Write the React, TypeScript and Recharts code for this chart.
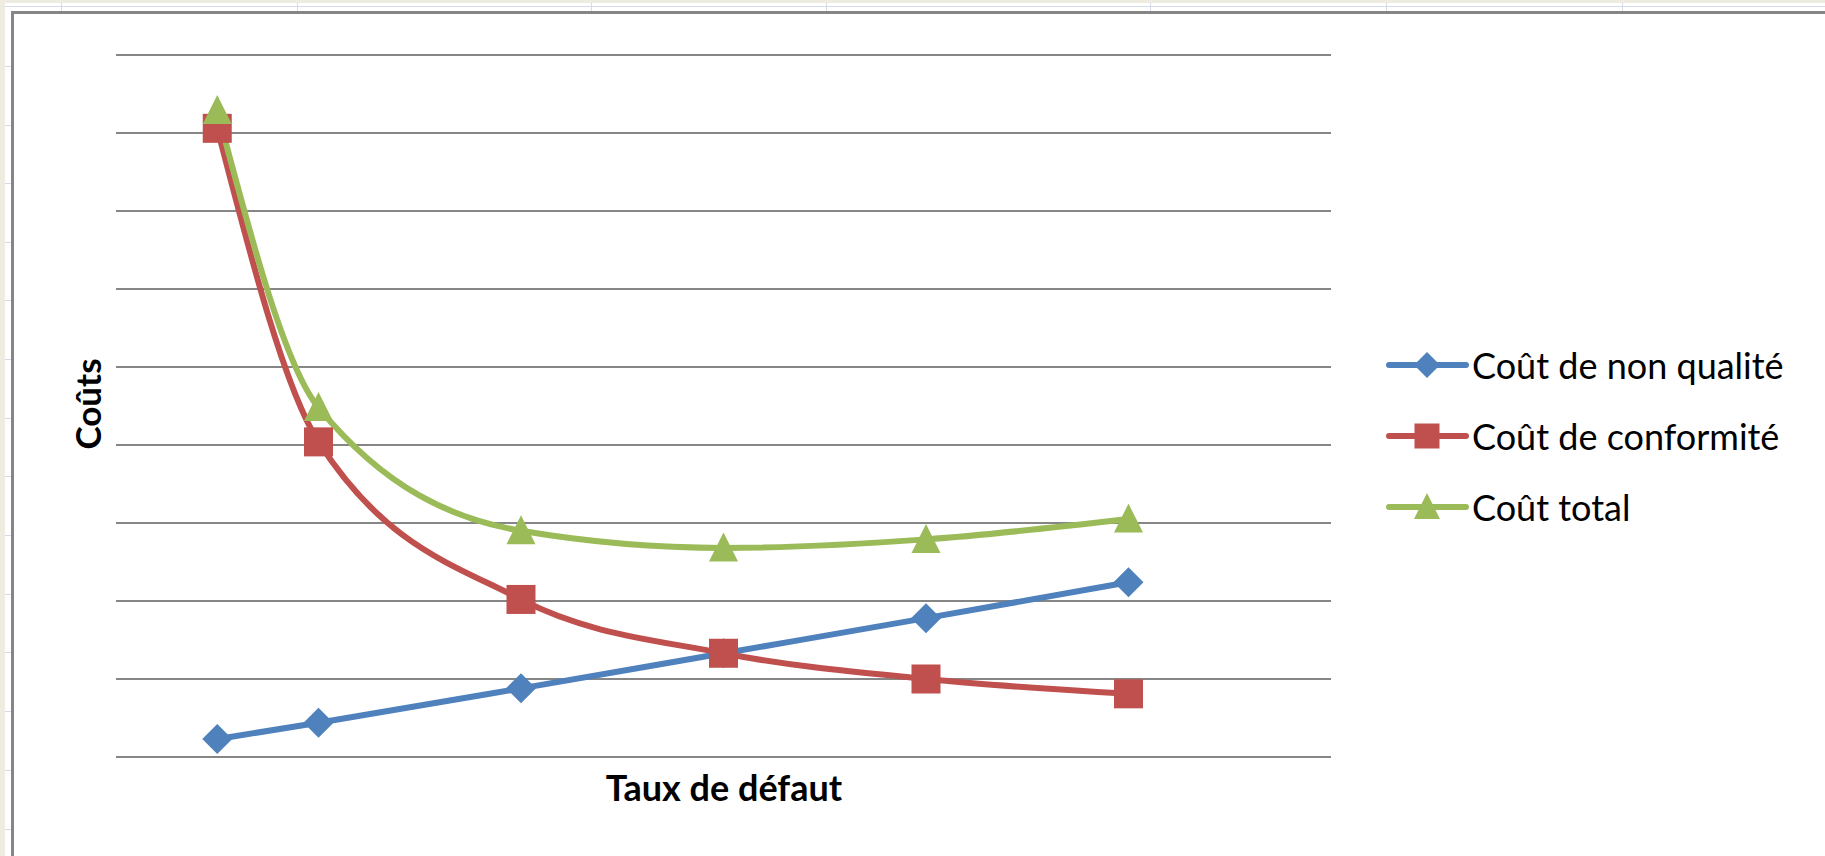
import React from 'react'
import { LineChart, Line, XAxis, YAxis, CartesianGrid } from 'recharts'

// defect rate (x) and costs (y)
const defectRates = [0.5, 1, 2, 3, 4, 5]
const nonQualityCost = [0.23, 0.44, 0.88, 1.33, 1.78, 2.24]
const conformityCost = [8.06, 4.04, 2.02, 1.33, 1.0, 0.81]
const totalCost = [8.29, 4.48, 2.9, 2.68, 2.79, 3.05]
const yTicks = [0, 1, 2, 3, 4, 5, 6, 7, 8, 9]

const seriesNames = ['Coût de non qualité', 'Coût de conformité', 'Coût total']
const colors = ['#4F81BD', '#C0504D', '#9BBB59']

const data = defectRates.map((x, i) => ({
    x,
    nonQuality: nonQualityCost[i],
    conformity: conformityCost[i],
    total: totalCost[i],
}))

const FONT = 'Lato, "Open Sans", sans-serif'

const Marker = ({ shape, cx, cy, size, color }: { shape: string; cx: number; cy: number; size: number; color: string }) => {
    const h = size / 2
    if (shape === 'diamond') {
        return <path d={`M${cx},${cy - h} L${cx + h},${cy} L${cx},${cy + h} L${cx - h},${cy} Z`} fill={color} />
    }
    if (shape === 'square') {
        return <rect x={cx - h} y={cy - h} width={size} height={size} fill={color} />
    }
    return <path d={`M${cx},${cy - h - 1} L${cx + h},${cy + h - 1} L${cx - h},${cy + h - 1} Z`} fill={color} />
}

const shapes = ['diamond', 'square', 'triangle']

const makeDot = (shape: string, color: string, size: number) =>
    // eslint-disable-next-line @typescript-eslint/no-explicit-any
    (props: any) => <Marker key={`${shape}-${props.index}`} shape={shape} cx={props.cx} cy={props.cy} size={size} color={color} />

const ChartLegend = () => (
    <div style={{ position: 'absolute', left: 1385, top: 329, fontFamily: FONT }}>
        {seriesNames.map((name, i) => (
            <div key={name} style={{ display: 'flex', alignItems: 'center', height: 71 }}>
                <svg width={86} height={32} style={{ display: 'block' }}>
                    <line x1={4} y1={16} x2={81} y2={16} stroke={colors[i]} strokeWidth={6} strokeLinecap="round" />
                    <Marker shape={shapes[i]} cx={42} cy={16} size={shapes[i] === 'square' ? 25 : 26} color={colors[i]} />
                </svg>
                <span style={{ fontSize: 36, color: '#000', marginLeft: 1, whiteSpace: 'nowrap' }}>{name}</span>
            </div>
        ))}
    </div>
)

export default function App() {
    return (
        <div style={{ position: 'absolute', left: 0, top: 0, width: 1825, height: 856, overflow: 'hidden', background: '#fff' }}>
            {/* spreadsheet behind the chart */}
            <div style={{ position: 'absolute', left: 0, top: 0, width: 1825, height: 3, background: '#EEECE1' }} />
            <div style={{ position: 'absolute', left: 0, top: 0, width: 5, height: 856, background: '#EEECE1' }} />
            <div style={{ position: 'absolute', left: 5, top: 6, width: 1820, height: 1, background: '#D4DAEA' }} />
            {[61, 297, 591, 826, 1150, 1386, 1622].map((x) => (
                <div key={x} style={{ position: 'absolute', left: x, top: 3, width: 1, height: 8, background: '#D4DAEA' }} />
            ))}
            {[66, 125, 183, 242, 300, 359, 418, 476, 535, 594, 652, 711, 770, 829].map((y) => (
                <div key={y} style={{ position: 'absolute', left: 5, top: y, width: 6, height: 1, background: '#D4DAEA' }} />
            ))}
            <div
                style={{
                    position: 'absolute',
                    left: 11,
                    top: 11,
                    width: 1900,
                    height: 900,
                    border: '3px solid #868686',
                    background: '#fff',
                }}
            />
            <div style={{ position: 'absolute', left: 0, top: 0 }}>
                <LineChart width={1825} height={856} data={data} margin={{ top: 55, left: 116, right: 494, bottom: 99 }}>
                    <CartesianGrid vertical={false} stroke="#868686" strokeWidth={2} />
                    <XAxis type="number" dataKey="x" domain={[0, 6]} hide />
                    <YAxis type="number" domain={[0, 9]} ticks={yTicks} hide />
                    <Line
                        type="monotone"
                        dataKey="nonQuality"
                        name={seriesNames[0]}
                        stroke={colors[0]}
                        strokeWidth={6}
                        dot={makeDot('diamond', colors[0], 30)}
                        activeDot={false}
                        isAnimationActive={false}
                    />
                    <Line
                        type="monotone"
                        dataKey="conformity"
                        name={seriesNames[1]}
                        stroke={colors[1]}
                        strokeWidth={6}
                        dot={makeDot('square', colors[1], 29)}
                        activeDot={false}
                        isAnimationActive={false}
                    />
                    <Line
                        type="monotone"
                        dataKey="total"
                        name={seriesNames[2]}
                        stroke={colors[2]}
                        strokeWidth={6}
                        dot={makeDot('triangle', colors[2], 29)}
                        activeDot={false}
                        isAnimationActive={false}
                    />
                </LineChart>
            </div>
            <ChartLegend />
            <div
                style={{
                    position: 'absolute',
                    left: 87,
                    top: 404,
                    transform: 'translate(-50%, -50%) rotate(-90deg)',
                    fontFamily: FONT,
                    fontWeight: 700,
                    fontSize: 35,
                    color: '#000',
                    whiteSpace: 'nowrap',
                }}
            >
                Coûts
            </div>
            <div
                style={{
                    position: 'absolute',
                    left: 724,
                    top: 787,
                    transform: 'translate(-50%, -50%)',
                    fontFamily: FONT,
                    fontWeight: 700,
                    fontSize: 36,
                    color: '#000',
                    whiteSpace: 'nowrap',
                }}
            >
                Taux de défaut
            </div>
        </div>
    )
}
